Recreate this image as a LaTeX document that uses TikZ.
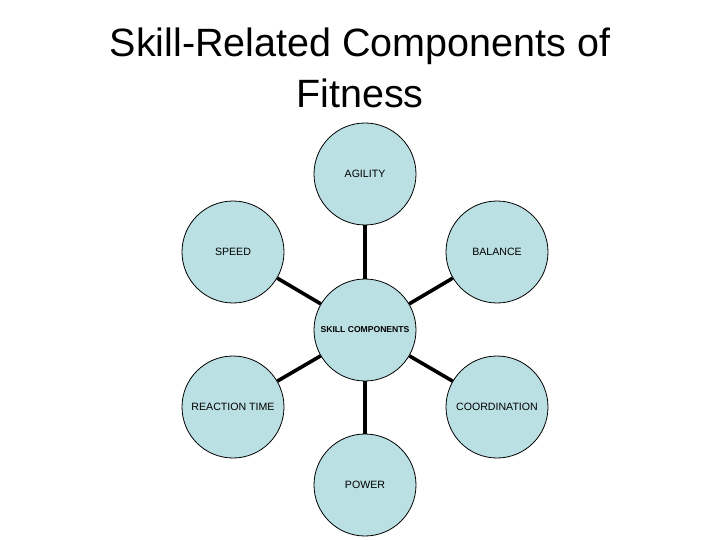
\documentclass[tikz,border=0pt]{standalone}
\usepackage{fontspec}
\setmainfont{Liberation Sans}
\definecolor{bubble}{HTML}{BBE0E3}
\begin{document}
\begin{tikzpicture}[x=1pt,y=-1pt,
  bub/.style={circle,draw=black,line width=0.8pt,fill=bubble,minimum size=102pt,inner sep=0pt,font=\fontsize{10.6}{12}\selectfont},
  hub/.style={bub,font=\fontsize{8.6}{10}\selectfont\bfseries},
  conn/.style={line width=3.6pt,black},
  ttl/.style={anchor=base,inner sep=0pt,font=\fontsize{39.5}{47}\selectfont}]
\useasboundingbox (0,0) rectangle (720,540);
\node[ttl] (t1) at (360,57) {Skill-Related Components of};
\node[ttl] (t2) at (360,108) {Fitness};
\node[hub] (c) at (365,330) {SKILL COMPONENTS};
\node[bub] (ag) at (365,174) {AGILITY};
\node[bub] (sp) at (233,252) {SPEED};
\node[bub] (ba) at (497,252) {BALANCE};
\node[bub] (rt) at (233,407) {REACTION TIME};
\node[bub] (co) at (497,407) {COORDINATION};
\node[bub] (po) at (365,485) {POWER};
\foreach \n in {ag,sp,ba,rt,co,po} \draw[conn] (c) -- (\n);
\end{tikzpicture}
\end{document}
